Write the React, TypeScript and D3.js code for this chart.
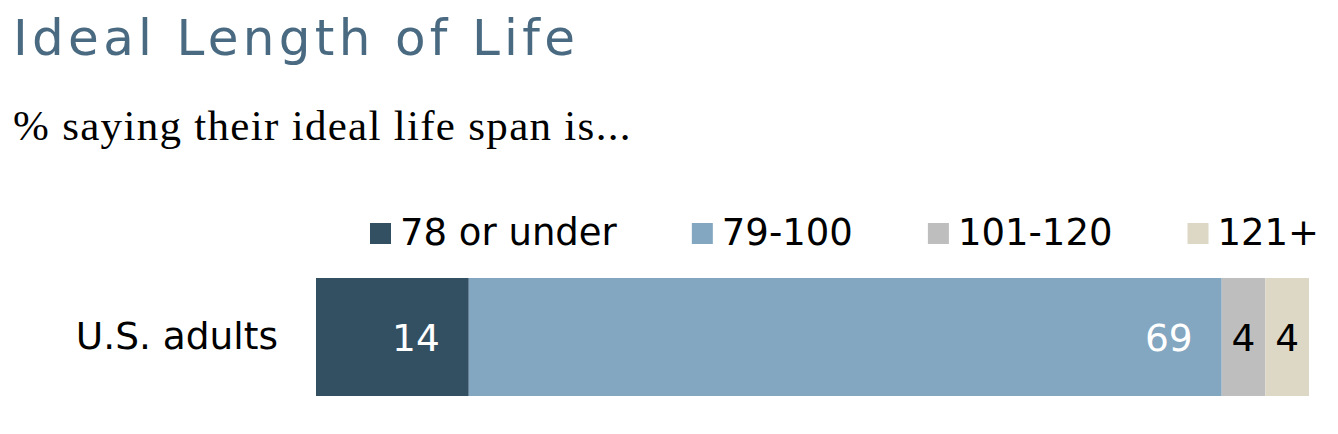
import React, { useEffect, useRef } from "react";
import * as d3 from "d3";

const title = "Ideal Length of Life";
const subtitle = "% saying their ideal life span is...";
const categories = ["U.S. adults"];
const seriesNames = ["78 or under", "79-100", "101-120", "121+"];
const seriesColors = ["#335063", "#83a6c1", "#bebebe", "#ddd8c6"];
const labelColors = ["#ffffff", "#ffffff", "#000000", "#000000"];
const values = [[14, 69, 4, 4]];

const W = 1338;
const H = 434;

export default function App() {
  const ref = useRef<SVGSVGElement | null>(null);

  useEffect(() => {
    document.body.style.margin = "0";
    const svg = d3.select(ref.current);
    svg.selectAll("*").remove();
    const sans = "'DejaVu Sans', Verdana, sans-serif";

    svg
      .append("text")
      .attr("x", 13)
      .attr("y", 55)
      .attr("font-family", sans)
      .attr("font-size", 50)
      .attr("letter-spacing", 4.3)
      .attr("fill", "#4a6a82")
      .text(title);

    svg
      .append("text")
      .attr("x", 13)
      .attr("y", 140)
      .attr("font-family", "'Liberation Serif', serif")
      .attr("font-size", 43)
      .attr("letter-spacing", 1.3)
      .attr("fill", "#000")
      .text(subtitle);

    const x = d3
      .scaleLinear()
      .domain([0, d3.sum(values[0])])
      .range([316, 1309]);
    const y = d3.scaleBand().domain(categories).range([278, 396]).padding(0);

    // legend (flow layout)
    const legend = svg.append("g");
    let lx = 370;
    seriesNames.forEach((name, i) => {
      legend
        .append("rect")
        .attr("x", lx)
        .attr("y", 223)
        .attr("width", 21)
        .attr("height", 21)
        .attr("fill", seriesColors[i]);
      const t = legend
        .append("text")
        .attr("x", lx + 30)
        .attr("y", 245)
        .attr("font-family", sans)
        .attr("font-size", 37)
        .attr("fill", "#000")
        .text(name);
      const w = (t.node() as SVGTextElement).getComputedTextLength();
      lx = lx + 30 + w + 75;
    });

    // category labels
    svg
      .selectAll("text.cat")
      .data(categories)
      .enter()
      .append("text")
      .attr("class", "cat")
      .attr("x", 278)
      .attr("y", (d) => (y(d) as number) + y.bandwidth() / 2 + 12)
      .attr("text-anchor", "end")
      .attr("font-family", sans)
      .attr("font-size", 37.5)
      .attr("fill", "#000")
      .text((d) => d);

    categories.forEach((cat, ci) => {
      const row = values[ci];
      const stack = d3.cumsum(row);
      const g = svg.append("g");
      row.forEach((v, i) => {
        const x0 = x(stack[i] - v);
        const x1 = x(stack[i]);
        g.append("rect")
          .attr("x", x0)
          .attr("y", y(cat) as number)
          .attr("width", x1 - x0)
          .attr("height", y.bandwidth())
          .attr("fill", seriesColors[i]);
        const wide = x1 - x0 > 100;
        g.append("text")
          .attr("x", wide ? x1 - 29 : (x0 + x1) / 2)
          .attr("y", (y(cat) as number) + y.bandwidth() / 2 + 14)
          .attr("text-anchor", wide ? "end" : "middle")
          .attr("font-family", sans)
          .attr("font-size", 37.5)
          .attr("fill", labelColors[i])
          .text(String(v));
      });
    });
  }, []);

  return <svg ref={ref} width={W} height={H} style={{ display: "block" }} />;
}
